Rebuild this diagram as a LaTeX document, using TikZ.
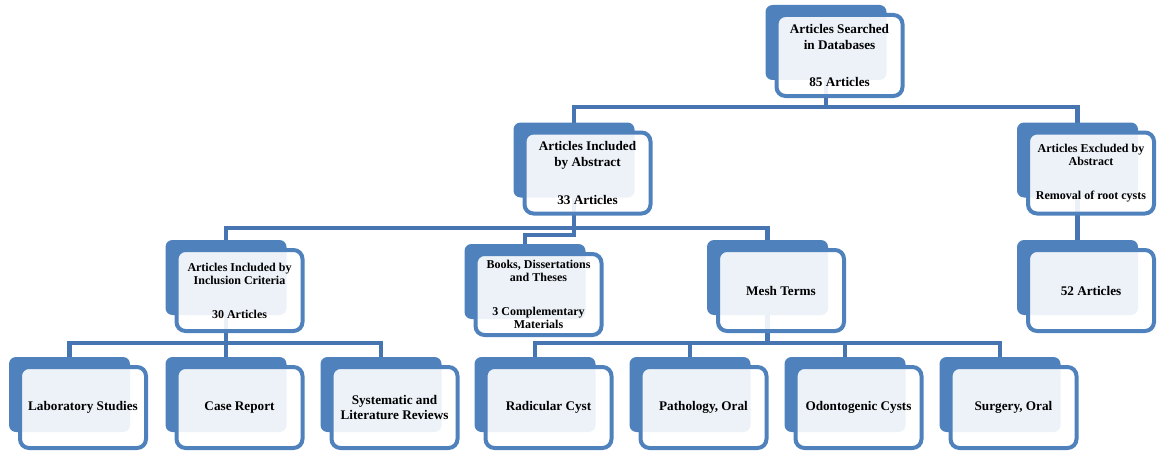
\documentclass[tikz,border=0pt]{standalone}
\usepackage{fontspec}
\setmainfont{Liberation Serif}
\usetikzlibrary{backgrounds}

\definecolor{boxblue}{RGB}{79,129,189}
\definecolor{linkblue}{RGB}{70,117,177}

\begin{document}
\begin{tikzpicture}[
      x=1pt, y=-1pt,
      card/.style  = {fill=boxblue, rounded corners=7pt, minimum width=121pt, minimum height=75pt, inner sep=0pt, outer sep=0pt},
      face/.style  = {draw=boxblue, line width=4pt, fill=white, fill opacity=0.9, text opacity=1,
                      rounded corners=9pt, minimum width=126pt, minimum height=81pt, inner sep=2pt, outer sep=0pt,
                      xshift=13.5pt, yshift=-13pt, align=center, font=\bfseries\fontsize{13.2}{15.8}\selectfont},
      small/.style = {font=\bfseries\fontsize{12}{13.5}\selectfont},
      link/.style  = {draw=linkblue, line width=4.5pt}
    ]
    \useasboundingbox (0,0) rectangle (1157,452);

    % top levels
    \node[card] (search) at (826,42.5)    {};
    \node[face] at (search)               {Articles Searched\\in Databases\\[22pt]85 Articles};
    \node[card] (incabs) at (574,160)     {};
    \node[face] at (incabs)               {Articles Included\\by Abstract\\[22pt]33 Articles};
    \node[card] (excabs) at (1077.5,160)  {};
    \node[face, small] at (excabs)        {Articles Excluded by\\Abstract\\[20pt]Removal of root cysts};

    \node[card] (incinc) at (226,277.5)   {};
    \node[face, small] at (incinc)        {Articles Included by\\Inclusion Criteria\\[20pt]30 Articles};
    \node[card] (books)  at (525,281.5)   {};
    \node[face, small] at (books)         {Books, Dissertations\\and Theses\\[20pt]3 Complementary\\Materials};
    \node[card] (mesh)   at (767.5,277.5) {};
    \node[face] at (mesh)                 {Mesh Terms};
    \node[card] (art52)  at (1077.5,277.5) {};
    \node[face] at (art52)                {52 Articles};

    % bottom row
    \node[card] (lab)    at (69.5,394.5)  {};
    \node[face] at (lab)                  {Laboratory Studies};
    \node[card] (case)   at (226,394.5)   {};
    \node[face] at (case)                 {Case Report};
    \node[card] (sysrev) at (381,394.5)   {};
    \node[face] at (sysrev)               {Systematic and\\Literature Reviews};
    \node[card] (radic)  at (535,394.5)   {};
    \node[face] at (radic)                {Radicular Cyst};
    \node[card] (patho)  at (690,394.5)   {};
    \node[face] at (patho)                {Pathology, Oral};
    \node[card] (odonto) at (845,394.5)   {};
    \node[face] at (odonto)               {Odontogenic Cysts};
    \node[card] (surg)   at (1000,394.5)  {};
    \node[face] at (surg)                 {Surgery, Oral};

    \begin{scope}[on background layer]
      \draw[link] (search) -- ++(0,64.5) coordinate (j1);
      \draw[link] (incabs.north) |- (j1) -| (excabs.north);

      \draw[link] (incabs) -- ++(0,68) coordinate (j2);
      \draw[link] (incinc.north) |- (j2) -| (mesh.north);
      \draw[link] (j2) -- ++(0,7) -| (books.north);

      \draw[link] (excabs) -- (art52.north);

      \draw[link] (incinc) -- ++(0,65.5) coordinate (j3);
      \draw[link] (lab.north) |- (j3) -| (sysrev.north);
      \draw[link] (j3) -- (case.north);

      \draw[link] (mesh) -- ++(0,65.5) coordinate (j4);
      \draw[link] (radic.north) |- (j4) -| (surg.north);
      \draw[link] (patho.north) |- (j4);
      \draw[link] (odonto.north) |- (j4);
    \end{scope}
  \end{tikzpicture}
\end{document}
